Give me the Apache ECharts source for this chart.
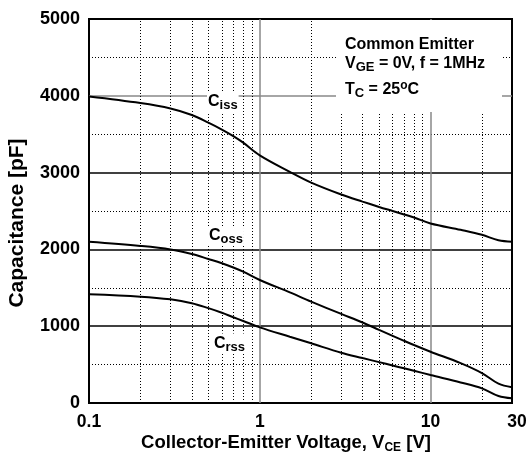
<!DOCTYPE html>
<html>
<head>
<meta charset="utf-8">
<script src="https://cdn.jsdelivr.net/npm/echarts@6/dist/echarts.min.js"></script>
<style>
html,body{margin:0;padding:0;background:#fff;}
#chart{width:530px;height:457px;}
</style>
</head>
<body>
<div id="chart"></div>
<script>
// ---- data ----
var vce  = [0.1, 0.2, 0.3, 0.4, 0.5, 0.6, 0.7, 0.8, 1, 1.5, 2, 3, 4, 5, 6, 7, 8, 10, 15, 20, 25, 30];
var ciss = [3990, 3905, 3835, 3750, 3650, 3560, 3475, 3390, 3225, 3010, 2870, 2715, 2622, 2553, 2500, 2455, 2415, 2338, 2255, 2190, 2118, 2100];
var coss = [2100, 2045, 2000, 1940, 1875, 1820, 1765, 1710, 1602, 1440, 1320, 1160, 1048, 952, 875, 810, 755, 668, 520, 390, 252, 205];
var crss = [1415, 1385, 1350, 1300, 1235, 1175, 1117, 1068, 985, 862, 777, 655, 585, 532, 488, 452, 420, 365, 268, 191, 91, 61];
var xTickLabels = ['0.1', '1', '10', '30'];
var yTickLabels = ['0', '1000', '2000', '3000', '4000', '5000'];
var minorX = [0.2, 0.3, 0.4, 0.5, 0.6, 0.7, 0.8, 0.9, 2, 3, 4, 5, 6, 7, 8, 9, 20];
var majorX = [1, 10];

var FONT = 'Liberation Sans, Arial, sans-serif';

function pairs(ys) { return vce.map(function (v, i) { return [v, ys[i]]; }); }

var vLines = minorX.map(function (v) {
  return { xAxis: v, lineStyle: { type: [1, 2], color: '#000', width: 1 } };
}).concat(majorX.map(function (v) {
  return { xAxis: v, lineStyle: { type: 'solid', color: '#888', width: 1.5 } };
}));

var lineSeries = function (name, ys, extra) {
  var s = {
    name: name, type: 'line', data: pairs(ys), smooth: 0.35, showSymbol: false,
    lineStyle: { color: '#000', width: 2 }, itemStyle: { color: '#000' }, z: 5, silent: true
  };
  if (extra) for (var k in extra) s[k] = extra[k];
  return s;
};

var chart = echarts.init(document.getElementById('chart'), null, { renderer: 'canvas' });
chart.setOption({
  animation: false,
  backgroundColor: '#fff',
  grid: { left: 89, right: 18, top: 19, bottom: 54, show: true, borderColor: '#000', borderWidth: 2, backgroundColor: 'transparent' },
  xAxis: {
    type: 'log', logBase: 10, min: 0.1, max: 30,
    axisLine: { show: false }, axisTick: { show: false }, splitLine: { show: false },
    axisLabel: {
      margin: 10, color: '#000', fontFamily: FONT, fontWeight: 'bold', fontSize: 17.5,
      showMaxLabel: true, showMinLabel: true,
      formatter: function (v) {
        var best = 0, bd = Infinity;
        xTickLabels.forEach(function (t, i) { var d = Math.abs(Math.log10(+t) - Math.log10(v)); if (d < bd) { bd = d; best = i; } });
        return best === xTickLabels.length - 1 ? '{r|' + xTickLabels[best] + '}' : xTickLabels[best];
      },
      rich: { r: { fontFamily: FONT, fontWeight: 'bold', fontSize: 17.5, color: '#000', padding: [0, 0, 0, 10] } }
    }
  },
  yAxis: {
    type: 'value', min: 0, max: 5000, interval: 1000,
    axisLine: { show: false }, axisTick: { show: false },
    axisLabel: {
      margin: 9, color: '#000', fontFamily: FONT, fontWeight: 'bold', fontSize: 18,
      formatter: function (v) { return yTickLabels[Math.round(v / 1000)]; }
    },
    splitLine: { show: true, lineStyle: { color: ['#000', '#000', '#000', '#000', '#888', '#000'], width: 1.5 } },
    minorTick: { show: false, splitNumber: 2 },
    minorSplitLine: { show: true, lineStyle: { color: '#000', width: 1, type: [1, 2] } }
  },
  series: [
    lineSeries('Ciss', ciss, {
      markLine: { silent: true, symbol: ['none', 'none'], label: { show: false }, animation: false, data: vLines }
    }),
    lineSeries('Coss', coss),
    lineSeries('Crss', crss)
  ],
  graphic: [
    { type: 'rect', z: 100, shape: { x: 336, y: 20, width: 166, height: 92 }, style: { fill: '#fff' } },
    { type: 'text', z: 101, x: 345, y: 44.5, style: { text: 'Common Emitter', font: 'bold 16px ' + FONT, fill: '#000', textAlign: 'left', textVerticalAlign: 'middle' } },
    { type: 'text', z: 101, x: 345, y: 63.5, style: {
      text: '{m|V}{s|GE}{m| = 0V, f = 1MHz}', textAlign: 'left', textVerticalAlign: 'middle',
      rich: { m: { fontFamily: FONT, fontWeight: 'bold', fontSize: 16, lineHeight: 20, fill: '#000' },
              s: { fontFamily: FONT, fontWeight: 'bold', fontSize: 13, lineHeight: 10, verticalAlign: 'bottom', fill: '#000' } } } },
    { type: 'text', z: 101, x: 345, y: 90, style: {
      text: '{m|T}{s|C}{m| = 25}{u|o}{m|C}', textAlign: 'left', textVerticalAlign: 'middle',
      rich: { m: { fontFamily: FONT, fontWeight: 'bold', fontSize: 16, lineHeight: 20, fill: '#000' },
              s: { fontFamily: FONT, fontWeight: 'bold', fontSize: 13, lineHeight: 10, verticalAlign: 'bottom', fill: '#000' },
              u: { fontFamily: FONT, fontWeight: 'bold', fontSize: 12, lineHeight: 10, verticalAlign: 'top', fill: '#000' } } } },
    { type: 'text', z: 101, x: 207, y: 102, style: {
      text: '{m|C}{s|iss}', textAlign: 'left', textVerticalAlign: 'middle', backgroundColor: '#fff', padding: [0, 1, 0, 1],
      rich: { m: { fontFamily: FONT, fontWeight: 'bold', fontSize: 16, lineHeight: 20, fill: '#000' },
              s: { fontFamily: FONT, fontWeight: 'bold', fontSize: 13, lineHeight: 10, verticalAlign: 'bottom', fill: '#000' } } } },
    { type: 'text', z: 101, x: 208, y: 236, style: {
      text: '{m|C}{s|oss}', textAlign: 'left', textVerticalAlign: 'middle', backgroundColor: '#fff', padding: [0, 1, 0, 1],
      rich: { m: { fontFamily: FONT, fontWeight: 'bold', fontSize: 16, lineHeight: 20, fill: '#000' },
              s: { fontFamily: FONT, fontWeight: 'bold', fontSize: 13, lineHeight: 6, verticalAlign: 'bottom', fill: '#000' } } } },
    { type: 'text', z: 101, x: 213, y: 343.5, style: {
      text: '{m|C}{s|rss}', textAlign: 'left', textVerticalAlign: 'middle', backgroundColor: '#fff', padding: [0, 1, 0, 1],
      rich: { m: { fontFamily: FONT, fontWeight: 'bold', fontSize: 16, lineHeight: 20, fill: '#000' },
              s: { fontFamily: FONT, fontWeight: 'bold', fontSize: 13, lineHeight: 10, verticalAlign: 'bottom', fill: '#000' } } } },
    { type: 'text', z: 101, x: 286, y: 443, style: {
      text: '{m|Collector-Emitter Voltage, V}{s|CE}{m| [V]}', textAlign: 'center', textVerticalAlign: 'middle',
      rich: { m: { fontFamily: FONT, fontWeight: 'bold', fontSize: 18.5, lineHeight: 22, fill: '#000' },
              s: { fontFamily: FONT, fontWeight: 'bold', fontSize: 12, lineHeight: 10, verticalAlign: 'bottom', fill: '#000' } } } },
    { type: 'text', z: 101, x: 17, y: 223, rotation: Math.PI / 2, style: {
      text: 'Capacitance [pF]', font: 'bold 21px ' + FONT, fill: '#000', textAlign: 'center', textVerticalAlign: 'middle' } }
  ]
});
</script>
</body>
</html>
